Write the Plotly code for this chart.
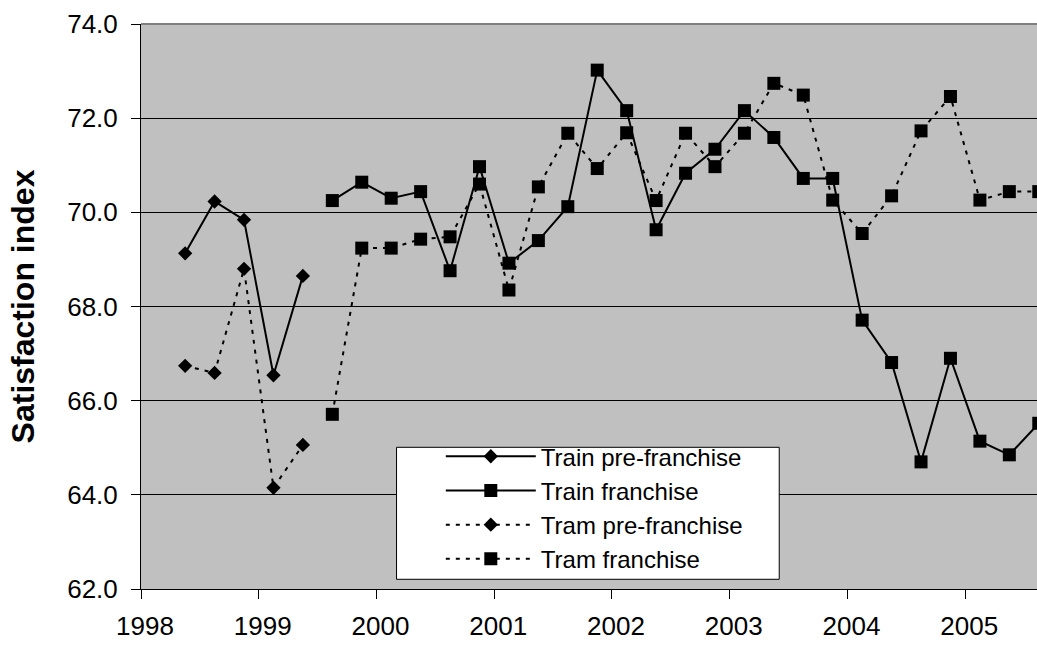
import plotly.graph_objects as go

# Quarterly survey points (decimal years)
pre_x = [1998.375, 1998.625, 1998.875, 1999.125, 1999.375]
fr_x = [1999.625, 1999.875, 2000.125, 2000.375, 2000.625, 2000.875, 2001.125,
        2001.375, 2001.625, 2001.875, 2002.125, 2002.375, 2002.625, 2002.875,
        2003.125, 2003.375, 2003.625, 2003.875, 2004.125, 2004.375, 2004.625,
        2004.875, 2005.125, 2005.375, 2005.625]

train_pre = [69.13, 70.23, 69.84, 66.54, 68.65]
tram_pre = [66.74, 66.59, 68.80, 64.15, 65.06]

train_fr = [70.25, 70.64, 70.30, 70.44, 68.76, 70.97, 68.92, 69.40, 70.12, 73.02,
            72.16, 69.63, 70.83, 71.34, 72.16, 71.59, 70.72, 70.72, 67.71, 66.81,
            64.70, 66.90, 65.14, 64.85, 65.52]
tram_fr = [65.71, 69.24, 69.24, 69.43, 69.48, 70.60, 68.35, 70.54, 71.68, 70.93,
           71.69, 70.25, 71.68, 70.97, 71.68, 72.74, 72.49, 70.26, 69.55, 70.35,
           71.73, 72.46, 70.26, 70.44, 70.44]

year_ticks = [1998, 1999, 2000, 2001, 2002, 2003, 2004, 2005]
y_ticks = [62, 64, 66, 68, 70, 72, 74]

FONT = "Arial, Liberation Sans, sans-serif"
DOT = "4px,6px"

fig = go.Figure()
fig.add_trace(go.Scatter(x=pre_x, y=train_pre, name="Train pre-franchise",
                         mode="lines+markers",
                         line=dict(color="black", width=2),
                         marker=dict(symbol="diamond", size=11, color="black")))
fig.add_trace(go.Scatter(x=fr_x, y=train_fr, name="Train franchise",
                         mode="lines+markers",
                         line=dict(color="black", width=2),
                         marker=dict(symbol="square", size=13, color="black")))
fig.add_trace(go.Scatter(x=pre_x, y=tram_pre, name="Tram pre-franchise",
                         mode="lines+markers",
                         line=dict(color="black", width=2, dash=DOT),
                         marker=dict(symbol="diamond", size=11, color="black")))
fig.add_trace(go.Scatter(x=fr_x, y=tram_fr, name="Tram franchise",
                         mode="lines+markers",
                         line=dict(color="black", width=2, dash=DOT),
                         marker=dict(symbol="square", size=13, color="black")))

fig.update_layout(
    width=1037, height=645,
    margin=dict(l=141, r=0, t=24, b=56),
    paper_bgcolor="white", plot_bgcolor="#c0c0c0",
    font=dict(family=FONT, color="black", size=26),
    showlegend=True,
    legend=dict(x=0.3346, y=0.2741, xanchor="left", yanchor="top",
                bgcolor="rgba(0,0,0,0)", borderwidth=0,
                font=dict(size=24, family=FONT, color="black"),
                itemwidth=90, tracegroupgap=0),
    xaxis=dict(range=[1998, 2005.61], tickmode="array", tickvals=year_ticks,
               ticktext=[str(v) for v in year_ticks],
               ticks="outside", ticklen=9, tickcolor="black", tickwidth=1,
               ticklabelstandoff=5, ticklabelshift=4,
               showline=True, linecolor="black", linewidth=1,
               showgrid=False, zeroline=False,
               tickfont=dict(size=26, family=FONT, color="black")),
    yaxis=dict(range=[62, 74], tickmode="array", tickvals=y_ticks,
               ticktext=["%.1f" % v for v in y_ticks],
               ticks="outside", ticklen=9, tickcolor="black", tickwidth=1,
               ticklabelstandoff=8,
               showline=True, linecolor="black", linewidth=1,
               showgrid=True, gridcolor="black", gridwidth=1, zeroline=False,
               tickfont=dict(size=26, family=FONT, color="black"),
               title=dict(text="<b>Satisfaction index</b>", standoff=22,
                          font=dict(size=32, family=FONT, color="black"))),
    shapes=[
        dict(type="line", xref="paper", yref="paper", x0=0, x1=1, y0=1, y1=1,
             line=dict(color="#808080", width=2), layer="above"),
        dict(type="rect", xref="paper", yref="paper",
             x0=0.2852, x1=0.7123, y0=0.0172, y1=0.2508,
             fillcolor="white", line=dict(color="black", width=1), layer="above"),
    ],
)

fig.write_html("out.html", config={"displayModeBar": False},
               post_script="document.body.style.margin='0';document.body.style.overflow='hidden';")
